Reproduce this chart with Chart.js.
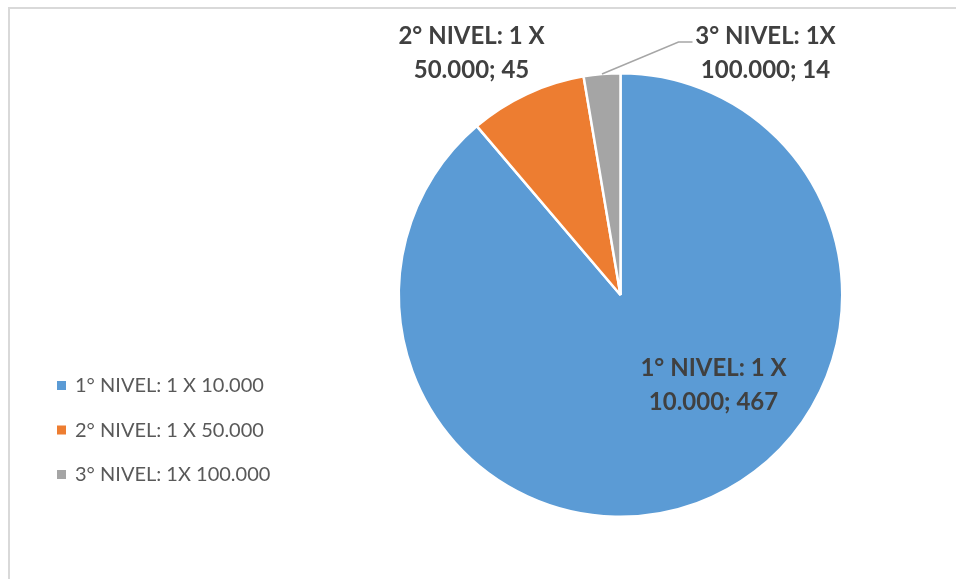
<!DOCTYPE html>
<html>
<head>
<meta charset="utf-8">
<script src="https://cdn.jsdelivr.net/npm/chart.js@4"></script>
<style>
  html, body { margin: 0; padding: 0; background: #fff; }
  #wrap { width: 956px; height: 579px; }
</style>
</head>
<body>
<div id="wrap"><canvas id="pie" width="956" height="579"></canvas></div>
<script>
// Niveles de premio y cantidad de ganadores
const LABELS = ['1° NIVEL: 1 X 10.000', '2° NIVEL: 1 X 50.000', '3° NIVEL: 1X 100.000'];
const VALUES = [467, 45, 14];
const COLORS = ['#5B9BD5', '#ED7D31', '#A5A5A5'];
// data label text, split in two lines
const LABEL_LINES = [
  ['1° NIVEL: 1 X', '10.000; ' + VALUES[0]],
  ['2° NIVEL: 1 X', '50.000; ' + VALUES[1]],
  ['3° NIVEL: 1X', '100.000; ' + VALUES[2]]
];

const LABEL_FONT = 'bold 24px Lato, "Open Sans", sans-serif';
const LEGEND_FONT = '20px Lato, "Open Sans", sans-serif';

// frame line (top and left only)
const framePlugin = {
  id: 'frame',
  beforeDraw(chart) {
    const ctx = chart.ctx;
    ctx.save();
    ctx.strokeStyle = '#d9d9d9';
    ctx.lineWidth = 2;
    ctx.beginPath();
    ctx.moveTo(9, chart.height);
    ctx.lineTo(9, 8);
    ctx.lineTo(chart.width, 8);
    ctx.stroke();
    ctx.restore();
  }
};

// legend drawn by hand on the left side
const sideLegend = {
  id: 'sideLegend',
  afterDraw(chart) {
    const ctx = chart.ctx;
    ctx.save();
    ctx.font = LEGEND_FONT;
    ctx.textBaseline = 'alphabetic';
    ctx.textAlign = 'left';
    LABELS.forEach((lab, i) => {
      const base = 392 + i * 44.5;
      ctx.fillStyle = COLORS[i];
      ctx.fillRect(57, base - 11, 9, 9);
      ctx.fillStyle = '#595959';
      ctx.fillText(lab, 75, base);
    });
    ctx.restore();
  }
};

// data labels + leader line for the small slice
const dataLabels = {
  id: 'dataLabels',
  afterDraw(chart) {
    const ctx = chart.ctx;
    const arcs = chart.getDatasetMeta(0).data;
    const cx = arcs[0].x, cy = arcs[0].y;
    // label anchors relative to the pie centre (line 1 baseline)
    const anchors = [
      { x: cx + 93, y: cy + 81 },
      { x: cx - 149, y: cy - 251 },
      { x: cx + 145, y: cy - 251 }
    ];
    ctx.save();
    // leader line from the grey slice
    const g = arcs[2];
    const mid = (g.startAngle + g.endAngle) / 2;
    const sx = cx + Math.cos(mid) * g.outerRadius;
    const sy = cy + Math.sin(mid) * g.outerRadius;
    ctx.strokeStyle = '#a6a6a6';
    ctx.lineWidth = 1.5;
    ctx.beginPath();
    ctx.moveTo(sx, sy);
    ctx.lineTo(cx + 58, cy - 253);
    ctx.lineTo(cx + 72, cy - 253);
    ctx.stroke();

    ctx.font = LABEL_FONT;
    ctx.fillStyle = '#404040';
    ctx.textAlign = 'center';
    ctx.textBaseline = 'alphabetic';
    LABEL_LINES.forEach((lines, i) => {
      ctx.fillText(lines[0], anchors[i].x, anchors[i].y);
      ctx.fillText(lines[1], anchors[i].x, anchors[i].y + 34);
    });
    ctx.restore();
  }
};

new Chart(document.getElementById('pie'), {
  type: 'pie',
  data: {
    labels: LABELS,
    datasets: [{
      data: VALUES,
      backgroundColor: COLORS,
      borderColor: '#ffffff',
      borderWidth: 2.5
    }]
  },
  options: {
    responsive: false,
    animation: false,
    layout: { padding: { left: 397, right: 112, top: 72, bottom: 61 } },
    plugins: {
      legend: { display: false },
      tooltip: { enabled: false }
    }
  },
  plugins: [framePlugin, sideLegend, dataLabels]
});
</script>
</body>
</html>
